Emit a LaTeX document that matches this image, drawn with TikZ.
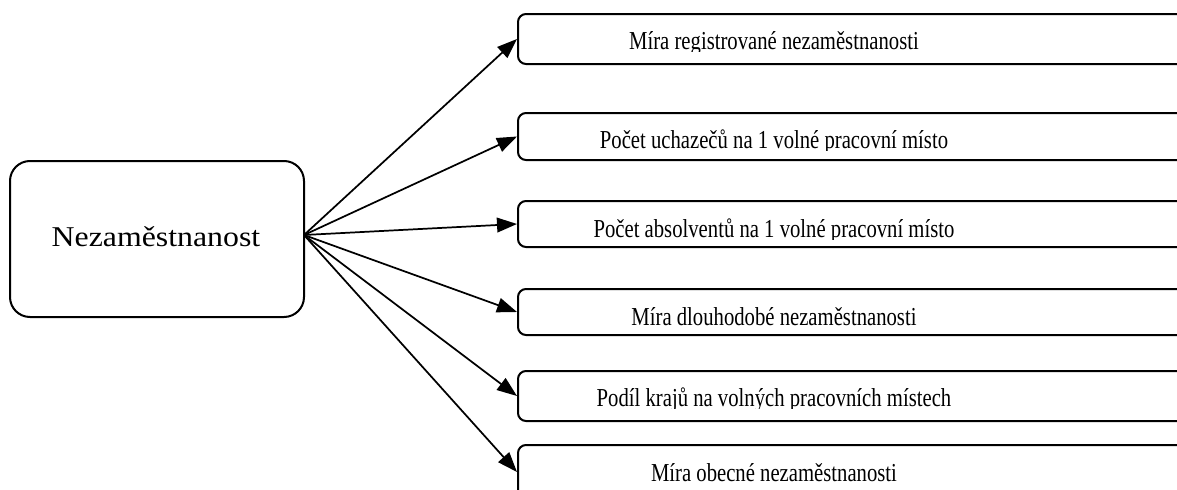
\documentclass[tikz,border=0pt]{standalone}
\usepackage{fontspec}
\setmainfont{Liberation Serif}
\newfontfamily\rfont[FakeStretch=0.80]{Liberation Serif}
\newfontfamily\lfont[FakeStretch=1.11]{Liberation Serif}
\usetikzlibrary{arrows.meta,fit}
\begin{document}
\begin{tikzpicture}[x=0.75pt,y=-0.75pt,
  box/.style={draw,line width=1.5pt,rounded corners=6pt,inner sep=0pt},
  lbox/.style={draw,line width=1.5pt,rounded corners=15pt,inner sep=0pt},
  rtxt/.style={font=\rfont\fontsize{19.4}{21}\selectfont,anchor=base,inner sep=0pt},
  ltxt/.style={font=\lfont\fontsize{21.5}{24}\selectfont,anchor=base,inner sep=0pt},
  arr/.style={line width=1.3pt,-{Triangle[length=15pt,width=11pt]}}]
\clip (0,0) rectangle (1177,489);
% left box
\node[lbox,fit={(10,161) (304,317)}] (L) {};
\node[ltxt] (Lt) at (156,246) {Nezaměstnanost};
% right boxes
\node[box,fit={(518,14) (1200,64)}] (b1) {};
\node[box,fit={(518,113) (1200,160)}] (b2) {};
\node[box,fit={(518,201) (1200,247)}] (b3) {};
\node[box,fit={(518,289) (1200,335)}] (b4) {};
\node[box,fit={(518,371) (1200,421)}] (b5) {};
\node[box,fit={(518,445) (1200,499)}] (b6) {};
% clipped texts
\begin{scope}\clip (518,14) rectangle (1177,51.5);
\node[rtxt] (t1) at (774,49) {Míra registrované nezaměstnanosti};\end{scope}
\begin{scope}\clip (518,113) rectangle (1177,150.5);
\node[rtxt] (t2) at (774,148) {Počet uchazečů na 1 volné pracovní místo};\end{scope}
\begin{scope}\clip (518,201) rectangle (1177,239.5);
\node[rtxt] (t3) at (774,237) {Počet absolventů na 1 volné pracovní místo};\end{scope}
\begin{scope}\clip (518,289) rectangle (1177,327.5);
\node[rtxt] (t4) at (774,325) {Míra dlouhodobé nezaměstnanosti};\end{scope}
\begin{scope}\clip (518,371) rectangle (1177,408.5);
\node[rtxt] (t5) at (774,406) {Podíl krajů na volných pracovních místech};\end{scope}
\begin{scope}\clip (518,445) rectangle (1177,489);
\node[rtxt] (t6) at (774,481) {Míra obecné nezaměstnanosti};\end{scope}
% arrows
\coordinate (o) at (304,235);
\draw[arr] (o) -- (b1.west);
\draw[arr] (o) -- (b2.west);
\draw[arr] (o) -- (b3.west);
\draw[arr] (o) -- (b4.west);
\draw[arr] (o) -- (b5.west);
\draw[arr] (o) -- (b6.west);
\end{tikzpicture}
\end{document}
